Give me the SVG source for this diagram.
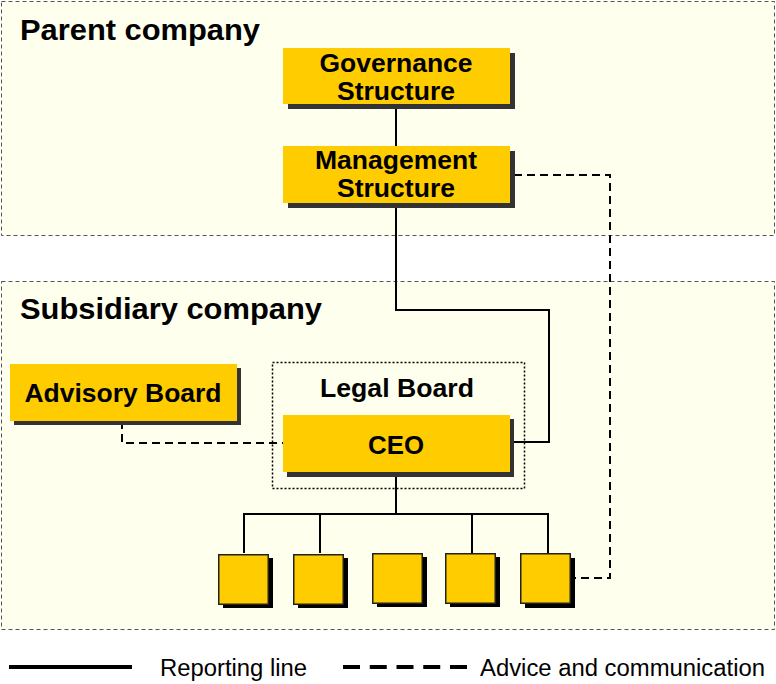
<svg xmlns="http://www.w3.org/2000/svg" width="776" height="684" viewBox="0 0 776 684">
<style>
.region{fill:#FFFFEE;stroke:#555;stroke-width:1;stroke-dasharray:4,3}
.title{font-family:"Liberation Sans",Arial,sans-serif;font-weight:bold;font-size:30px;fill:#000}
.box{fill:#FFCC00}
.shadow{fill:#333}
.lbl{font-family:"Liberation Sans",Arial,sans-serif;font-weight:bold;font-size:25px;fill:#000;text-anchor:middle}
.sq{fill:#FFCC00;stroke:#222;stroke-width:1.5}
.sqs{fill:#000}
.solid{fill:none;stroke:#000;stroke-width:2}
.dash{fill:none;stroke:#000;stroke-width:2;stroke-dasharray:8,5}
.legend{font-family:"Liberation Sans",Arial,sans-serif;font-size:23px;fill:#000}
</style>
<rect width="776" height="684" fill="#fff"/>
<g id="parent">
<rect class="region" x="1.5" y="1.5" width="773" height="234"/>
<text class="title" x="20" y="40" textLength="240" lengthAdjust="spacingAndGlyphs">Parent company</text>
</g>
<g id="subsidiary">
<rect class="region" x="1.5" y="281.5" width="773" height="348"/>
<text class="title" x="20" y="319" textLength="302" lengthAdjust="spacingAndGlyphs">Subsidiary company</text>
</g>
<g id="legal-board">
<rect x="272.5" y="362.5" width="252" height="126" fill="none" stroke="#000" stroke-width="1.5" stroke-dasharray="2,2"/>
<text class="lbl" x="397" y="397" textLength="154" lengthAdjust="spacingAndGlyphs">Legal Board</text>
</g>
<g id="connectors">
<path class="solid" d="M396 104V146"/>
<path class="solid" d="M396 203V310H549V442H514"/>
<path class="solid" d="M396 477V514"/>
<path class="solid" d="M244 553V514H548V553"/>
<path class="solid" d="M320 514V553M472 514V553"/>
<path class="dash" d="M122 421V443H283"/>
<path class="dash" d="M514 175H610V578H575"/>
</g>
<g id="governance">
<rect class="shadow" x="288" y="53" width="227" height="56"/>
<rect class="box" x="283" y="48" width="227" height="56"/>
<text class="lbl" x="396" y="72" textLength="153" lengthAdjust="spacingAndGlyphs">Governance</text>
<text class="lbl" x="396" y="100" textLength="118" lengthAdjust="spacingAndGlyphs">Structure</text>
</g>
<g id="management">
<rect class="shadow" x="288" y="151" width="227" height="57"/>
<rect class="box" x="283" y="146" width="227" height="57"/>
<text class="lbl" x="396" y="169" textLength="162" lengthAdjust="spacingAndGlyphs">Management</text>
<text class="lbl" x="396" y="197" textLength="118" lengthAdjust="spacingAndGlyphs">Structure</text>
</g>
<g id="advisory">
<rect class="shadow" x="14" y="368" width="227" height="57"/>
<rect class="box" x="10" y="364" width="227" height="57"/>
<text class="lbl" x="123" y="402" textLength="197" lengthAdjust="spacingAndGlyphs">Advisory Board</text>
</g>
<g id="ceo">
<rect class="shadow" x="287" y="419" width="227" height="58"/>
<rect class="box" x="283" y="415" width="227" height="57"/>
<text class="lbl" x="396" y="454" textLength="56" lengthAdjust="spacingAndGlyphs">CEO</text>
</g>
<g id="unit1"><rect class="sqs" x="223" y="558" width="50" height="50"/><rect class="sq" x="218.75" y="554.75" width="49.5" height="49.5"/></g>
<g id="unit2"><rect class="sqs" x="298" y="558" width="50" height="50"/><rect class="sq" x="293.75" y="554.75" width="49.5" height="49.5"/></g>
<g id="unit3"><rect class="sqs" x="377" y="557" width="50" height="50"/><rect class="sq" x="372.75" y="553.75" width="49.5" height="49.5"/></g>
<g id="unit4"><rect class="sqs" x="450" y="557" width="50" height="50"/><rect class="sq" x="445.75" y="553.75" width="49.5" height="49.5"/></g>
<g id="unit5"><rect class="sqs" x="525" y="558" width="50" height="50"/><rect class="sq" x="520.75" y="553.75" width="49.5" height="49.5"/></g>
<g id="legend">
<line x1="9" y1="667" x2="132" y2="667" stroke="#000" stroke-width="4"/>
<text class="legend" x="160" y="676" textLength="147" lengthAdjust="spacingAndGlyphs">Reporting line</text>
<line x1="343" y1="667" x2="467" y2="667" stroke="#000" stroke-width="4" stroke-dasharray="17,9.75"/>
<text class="legend" x="480" y="676" textLength="285" lengthAdjust="spacingAndGlyphs">Advice and communication</text>
</g>
</svg>
